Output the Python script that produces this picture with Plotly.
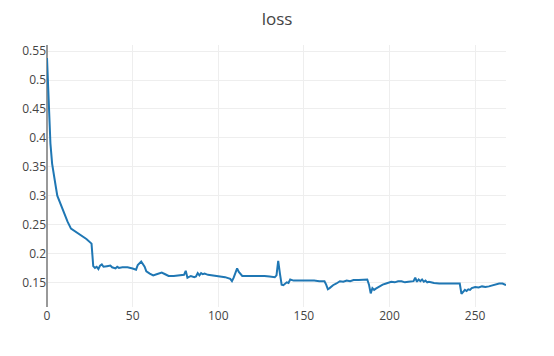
import plotly.graph_objects as go

steps = [0, 1, 2, 3, 4, 5, 6, 8, 10, 12, 14, 17, 20, 23, 26, 27, 28, 29, 30, 31, 32, 33, 35, 37, 38, 40, 41, 42, 44, 47,
         50, 52, 53, 55, 57, 58, 60, 62, 64, 67, 69, 71, 74, 77, 79, 80, 81, 82, 84, 86, 87, 88, 89, 90, 91, 92, 94, 97,
         100, 104, 107, 108, 109, 111, 112, 114, 116, 118, 121, 124, 127, 130, 133, 134, 135, 136, 137, 138, 139, 140,
         141, 142, 144, 147, 150, 153, 156, 159, 162, 163, 164, 165, 167, 169, 171, 173, 175, 177, 179, 182, 185, 187,
         188, 189, 190, 191, 192, 194, 196, 198, 201, 203, 205, 207, 209, 211, 213, 214, 215, 216, 217, 218, 219, 220,
         221, 222, 223, 224, 226, 229, 232, 235, 238, 241, 242, 243, 244, 245, 246, 247, 248, 250, 252, 254, 256, 258,
         260, 262, 264, 266, 268]

loss = [0.538, 0.455, 0.39, 0.355, 0.332, 0.318, 0.300, 0.284, 0.268, 0.255, 0.243, 0.237, 0.232, 0.225, 0.217, 0.178,
        0.175, 0.177, 0.173, 0.179, 0.181, 0.177, 0.178, 0.179, 0.176, 0.174, 0.177, 0.175, 0.176, 0.176,
        0.174, 0.172, 0.180, 0.186, 0.177, 0.169, 0.165, 0.162, 0.164, 0.167, 0.164, 0.161, 0.161, 0.162, 0.162, 0.163,
        0.170, 0.158, 0.161, 0.159, 0.160, 0.166, 0.162, 0.166, 0.164, 0.165, 0.163, 0.162,
        0.160, 0.159, 0.156, 0.152, 0.158, 0.174, 0.168, 0.161, 0.161, 0.161, 0.162, 0.161, 0.161, 0.160, 0.159, 0.162,
        0.187, 0.165, 0.146, 0.145, 0.148, 0.150,
        0.149, 0.155, 0.153, 0.153, 0.153, 0.154, 0.153, 0.152, 0.152, 0.146, 0.138, 0.140, 0.145, 0.148, 0.152, 0.151,
        0.153, 0.152, 0.154, 0.154, 0.155, 0.155,
        0.146, 0.131, 0.140, 0.137, 0.139, 0.143, 0.146, 0.148, 0.151, 0.150, 0.152, 0.152, 0.150, 0.151, 0.151, 0.152,
        0.158, 0.151, 0.155, 0.152, 0.155, 0.151,
        0.153, 0.150, 0.151, 0.150, 0.149, 0.148, 0.148, 0.147, 0.148, 0.148, 0.130, 0.133, 0.137, 0.135, 0.138, 0.137,
        0.140, 0.142, 0.141, 0.143, 0.142, 0.143,
        0.145, 0.147, 0.148, 0.148, 0.145]

title_text = "loss"

fig = go.Figure(go.Scatter(x=steps, y=loss, mode="lines",
                           line=dict(color="#1f77b4", width=2)))

fig.update_layout(
    template="none",
    width=554, height=356,
    margin=dict(l=47, r=48, t=45, b=49),
    title=dict(text=title_text, x=0.5, xanchor="center", y=1 - 19 / 356, yanchor="middle",
               font=dict(family="Open Sans", size=17, color="#444")),
    font=dict(family="Open Sans", size=12, color="#444"),
    paper_bgcolor="white", plot_bgcolor="white",
    showlegend=False,
)
fig.update_xaxes(showgrid=True, gridcolor="#eee", zeroline=True, zerolinecolor="#999",
                 zerolinewidth=1.5, showline=False, ticks="", dtick=50)
fig.update_yaxes(showgrid=True, gridcolor="#eee", zeroline=False, showline=False, ticks="", dtick=0.05)

fig.write_html("out.html")
